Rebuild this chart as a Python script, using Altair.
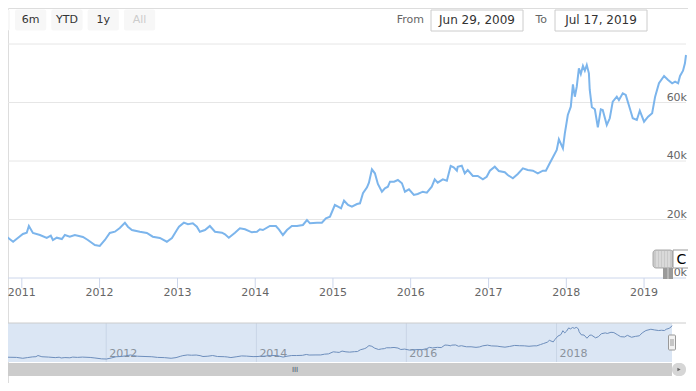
import altair as alt
import pandas as pd

FONT = "DejaVu Sans"

# ---- series ----
dates = [
    "2010-08-15", "2010-09-20", "2010-10-21", "2010-11-21", "2010-12-13",
    "2011-01-06", "2011-01-24", "2011-02-03", "2011-02-22", "2011-03-27",
    "2011-04-28", "2011-05-17", "2011-05-27", "2011-06-14", "2011-07-08",
    "2011-07-22", "2011-08-14", "2011-09-07", "2011-10-15", "2011-11-07",
    "2011-12-10", "2012-01-02", "2012-01-26", "2012-02-18", "2012-03-13",
    "2012-04-05", "2012-04-29", "2012-05-13", "2012-06-01", "2012-07-08",
    "2012-08-10", "2012-09-07", "2012-10-10", "2012-11-12", "2012-12-06",
    "2012-12-29", "2013-01-08", "2013-01-31", "2013-02-19", "2013-03-14",
    "2013-04-02", "2013-04-16", "2013-05-10", "2013-06-02", "2013-06-26",
    "2013-07-29", "2013-08-12", "2013-08-30", "2013-09-28", "2013-10-21",
    "2013-11-14", "2013-12-16", "2014-01-09", "2014-01-23", "2014-02-06",
    "2014-03-11", "2014-04-08", "2014-04-22", "2014-05-11", "2014-05-30",
    "2014-06-22", "2014-07-16", "2014-08-13", "2014-09-01", "2014-09-15",
    "2014-10-18", "2014-11-10", "2014-11-29", "2014-12-18", "2015-01-10",
    "2015-01-25", "2015-02-08", "2015-02-22", "2015-03-13", "2015-03-31",
    "2015-04-24", "2015-05-08", "2015-05-22", "2015-06-10", "2015-06-19",
    "2015-07-03", "2015-07-17", "2015-07-31", "2015-08-19", "2015-09-02",
    "2015-09-16", "2015-09-26", "2015-10-15", "2015-11-02", "2015-11-21",
    "2015-12-05", "2015-12-24", "2016-01-16", "2016-02-03", "2016-02-27",
    "2016-03-17", "2016-04-09", "2016-04-23", "2016-05-07", "2016-05-31",
    "2016-06-19", "2016-07-07", "2016-07-21", "2016-08-05", "2016-08-09",
    "2016-08-28", "2016-09-11", "2016-09-25", "2016-10-19", "2016-11-11",
    "2016-12-05", "2016-12-23", "2017-01-07", "2017-01-30", "2017-02-18",
    "2017-03-18", "2017-04-01", "2017-04-25", "2017-05-18", "2017-06-11",
    "2017-07-04", "2017-07-28", "2017-08-20", "2017-09-13", "2017-09-27",
    "2017-10-15", "2017-10-30", "2017-11-17", "2017-11-27", "2017-12-16",
    "2017-12-25", "2018-01-08", "2018-01-22", "2018-02-01", "2018-02-10",
    "2018-02-19", "2018-03-01", "2018-03-10", "2018-03-20", "2018-03-29",
    "2018-04-07", "2018-04-17", "2018-04-21", "2018-05-01", "2018-05-15",
    "2018-05-29", "2018-06-12", "2018-06-21", "2018-07-10", "2018-07-24",
    "2018-08-07", "2018-08-26", "2018-09-05", "2018-09-23", "2018-10-07",
    "2018-10-26", "2018-11-09", "2018-11-28", "2018-12-12", "2019-01-01",
    "2019-01-20", "2019-02-08", "2019-02-22", "2019-03-12", "2019-04-05",
    "2019-04-24", "2019-05-13", "2019-05-27", "2019-06-10", "2019-06-19",
    "2019-07-03", "2019-07-12", "2019-07-17",
]
values = [
    14800, 14360, 14120, 12410, 13680,
    15040, 15490, 17780, 15390, 14700,
    13680, 14460, 12990, 13780, 13330,
    14700, 14120, 14700, 14020, 12990,
    11280, 10940, 12990, 15390, 15830,
    17100, 18910, 17540, 16410, 15830,
    15390, 14120, 13680, 12410, 13680,
    16410, 17540, 18910, 18360, 18700,
    17540, 15830, 16410, 17780, 15830,
    15490, 14940, 13780, 15490, 16990,
    16650, 15620, 15830, 16650, 16410,
    17780, 17780, 16650, 14700, 16410,
    17780, 17780, 18120, 19830, 18700,
    18910, 18910, 20410, 20960, 24960,
    24380, 23830, 26430, 24960, 24380,
    25300, 25540, 28960, 31010, 32580,
    37160, 35800, 32140, 29510, 30670,
    31210, 32920, 32920, 33510, 32380,
    29510, 30330, 28380, 28720, 29510,
    29160, 31210, 33740, 32580, 33740,
    33270, 38290, 37850, 36690, 38050,
    38400, 35800, 36930, 34870, 34870,
    33740, 34630, 36690, 38050, 36580,
    36140, 35210, 34090, 35560, 37500,
    36930, 36690, 35800, 36690, 36690,
    39220, 41270, 43760, 47420, 44340,
    49470, 55730, 58570, 66220, 61980,
    65400, 71690, 69750, 72480, 70870,
    72820, 69990, 64280, 58360, 57680,
    51520, 57680, 57440, 52310, 54600,
    60280, 61990, 60860, 63150, 62570,
    58020, 54600, 54020, 57200, 53440,
    55150, 56310, 61990, 66570, 69060,
    67690, 66570, 67110, 66570, 69060,
    70870, 73400, 76240,
]

# ---- axis / UI texts ----
main_years = ["2011", "2012", "2013", "2014", "2015", "2016", "2017", "2018", "2019"]
nav_years = ["2012", "2014", "2016", "2018"]
y_ticks = [0, 20000, 40000, 60000, 80000]
y_tick_labels = ["0k", "20k", "40k", "60k", ""]
buttons = ["3m", "6m", "YTD", "1y", "All"]
range_labels = ["From", "To"]
range_values = ["Jun 29, 2009", "Jul 17, 2019"]
nav_range = ["2009-06-29", "2019-07-17"]

df = pd.DataFrame({"date": dates, "value": values})
ytick_df = pd.DataFrame({"tick": y_ticks, "label": y_tick_labels})
xtick_df = pd.DataFrame({"date": [f"{y}-01-01" for y in main_years], "label": main_years})
navtick_df = pd.DataFrame({"date": [f"{y}-01-01" for y in nav_years], "label": nav_years})
btn_df = pd.DataFrame({"label": buttons})
range_df = pd.DataFrame({"label": range_labels, "value": range_values})
navrange_df = pd.DataFrame({"start": [nav_range[0]], "end": [nav_range[1]]})
one = pd.DataFrame({"a": [0]})


def dt(s):
    y, m, d = (int(p) for p in s.split("-"))
    return alt.DateTime(year=y, month=m, date=d, utc=True)


main_x = alt.Scale(type="utc", domain=[dt("2010-10-28"), dt("2019-07-17")], range=[0, 678], nice=False)
main_y = alt.Scale(domain=[0, 80000], range=[270, 36], nice=False, zero=False)
nav_x = alt.Scale(type="utc", domain=[dt(nav_range[0]), dt(nav_range[1])], range=[-90, 664], nice=False)
nav_y = alt.Scale(domain=[10000, 77000], range=[351.5, 317.2], nice=False, zero=False)

layers = []

# ---- range selector buttons (the first one lies mostly off the left edge) ----
btn_x = alt.Scale(type="band", domain=buttons, range=[-29.3, 147.2], paddingInner=0.14, paddingOuter=0)
layers.append(
    alt.Chart(btn_df).mark_bar(color="#f7f7f7", cornerRadius=2).encode(
        x=alt.X("label:N", scale=btn_x, axis=None), y=alt.value(1.5), y2=alt.value(22.5)
    )
)
layers.append(
    alt.Chart(btn_df).transform_filter(alt.datum.label != buttons[0]).mark_text(font=FONT, fontSize=11, baseline="middle").encode(
        x=alt.X("label:N", scale=btn_x, axis=None),
        y=alt.value(11.5),
        text="label:N",
        color=alt.condition(alt.datum.label == "All", alt.value("#cccccc"), alt.value("#333333")),
    )
)

# ---- From / To inputs ----
for i, (lx, bx0, bx1) in enumerate([(416, 423, 515), (539, 547, 639)]):
    sub = alt.Chart(range_df).transform_filter(alt.datum.label == range_labels[i])
    layers.append(
        sub.mark_text(font=FONT, fontSize=11, align="right", baseline="middle", color="#666666").encode(
            x=alt.value(lx), y=alt.value(11.5), text="label:N"
        )
    )
    layers.append(
        sub.mark_rect(fill="white", stroke="#cccccc", strokeWidth=1).encode(
            x=alt.value(bx0), x2=alt.value(bx1), y=alt.value(2), y2=alt.value(23)
        )
    )
    layers.append(
        sub.mark_text(font=FONT, fontSize=12, align="center", baseline="middle", color="#333333").encode(
            x=alt.value((bx0 + bx1) / 2), y=alt.value(12), text="value:N"
        )
    )

# ---- main plot ----
layers.append(
    alt.Chart(ytick_df).transform_filter(alt.datum.tick > 0).mark_rule(color="#e6e6e6", strokeWidth=1).encode(
        y=alt.Y("tick:Q", scale=main_y, axis=None), x=alt.value(0), x2=alt.value(678)
    )
)
layers.append(
    alt.Chart(ytick_df).transform_filter(alt.datum.tick == 0).mark_rule(color="#ccd6eb", strokeWidth=1).encode(
        y=alt.Y("tick:Q", scale=main_y, axis=None), x=alt.value(0), x2=alt.value(678)
    )
)
layers.append(
    alt.Chart(xtick_df).mark_rule(color="#ccd6eb", strokeWidth=1).encode(
        x=alt.X("date:T", scale=main_x, axis=None), y=alt.value(270), y2=alt.value(280)
    )
)
layers.append(
    alt.Chart(xtick_df).mark_text(font=FONT, fontSize=11, baseline="middle", color="#666666").encode(
        x=alt.X("date:T", scale=main_x, axis=None), y=alt.value(285), text="label:N"
    )
)
layers.append(
    alt.Chart(df).mark_line(color="#7cb5ec", strokeWidth=2, clip=True).encode(
        x=alt.X("date:T", scale=main_x, axis=None), y=alt.Y("value:Q", scale=main_y, axis=None)
    )
)
layers.append(
    alt.Chart(ytick_df).mark_text(font=FONT, fontSize=11, align="right", baseline="alphabetic", dy=-2, color="#666666").encode(
        y=alt.Y("tick:Q", scale=main_y, axis=None), x=alt.value(679), text="label:N"
    )
)

# ---- odd overlay widget near the 0k label ----
layers.append(
    alt.Chart(one).mark_rect(fill="#c9c9c9", stroke="#aaaaaa", cornerRadius=3).encode(
        x=alt.value(645), x2=alt.value(665), y=alt.value(242), y2=alt.value(260)
    )
)
for sx in [649, 652, 655, 658, 661]:
    layers.append(
        alt.Chart(one).mark_rule(color="#e9e9e9", strokeWidth=1).encode(
            x=alt.value(sx), y=alt.value(243), y2=alt.value(259)
        )
    )
layers.append(
    alt.Chart(one).mark_rect(fill="#9a9a9a").encode(
        x=alt.value(655), x2=alt.value(665), y=alt.value(260), y2=alt.value(271)
    )
)
layers.append(
    alt.Chart(one).mark_rule(color="#d0d0d0", strokeWidth=1).encode(
        x=alt.value(660), y=alt.value(260), y2=alt.value(271)
    )
)
layers.append(
    alt.Chart(one).mark_rect(fill="white", stroke="#999999").encode(
        x=alt.value(665), x2=alt.value(685), y=alt.value(242), y2=alt.value(260)
    )
)
layers.append(
    alt.Chart(one).mark_text(text="C", font=FONT, fontSize=14, color="#000000", baseline="middle").encode(
        x=alt.value(673.5), y=alt.value(252)
    )
)

# ---- navigator ----
layers.append(
    alt.Chart(navrange_df).mark_rect(fill="#dbe6f4").encode(
        x=alt.X("start:T", scale=nav_x, axis=None), x2="end:T", y=alt.value(315), y2=alt.value(354)
    )
)
layers.append(
    alt.Chart(navtick_df).mark_rule(color="#c9d5e6", strokeWidth=1).encode(
        x=alt.X("date:T", scale=nav_x, axis=None), y=alt.value(315), y2=alt.value(354)
    )
)
layers.append(
    alt.Chart(navtick_df).mark_text(font=FONT, fontSize=11, align="left", dx=3, baseline="middle", color="#8a929c").encode(
        x=alt.X("date:T", scale=nav_x, axis=None), y=alt.value(345.8), text="label:N"
    )
)
layers.append(
    alt.Chart(df).mark_line(color="#6d8ebc", strokeWidth=1, clip=True).encode(
        x=alt.X("date:T", scale=nav_x, axis=None), y=alt.Y("value:Q", scale=nav_y, axis=None)
    )
)
layers.append(
    alt.Chart(one).mark_rule(color="#cccccc", strokeWidth=1).encode(
        x=alt.value(0), x2=alt.value(678), y=alt.value(315)
    )
)
# right handle
layers.append(
    alt.Chart(one).mark_rect(fill="#f2f2f2", stroke="#999999", cornerRadius=1).encode(
        x=alt.value(660.5), x2=alt.value(667.5), y=alt.value(327), y2=alt.value(342)
    )
)
for hx in [663, 665]:
    layers.append(
        alt.Chart(one).mark_rule(color="#999999", strokeWidth=1).encode(
            x=alt.value(hx), y=alt.value(331), y2=alt.value(338)
        )
    )

# ---- scrollbar ----
layers.append(
    alt.Chart(navrange_df).mark_rect(fill="#cccccc").encode(
        x=alt.X("start:T", scale=nav_x, axis=None), x2="end:T", y=alt.value(355), y2=alt.value(368)
    )
)
layers.append(
    alt.Chart(one).mark_rect(fill="#d6d6d6", cornerRadius=6).encode(
        x=alt.value(664), x2=alt.value(678), y=alt.value(355), y2=alt.value(368)
    )
)
layers.append(
    alt.Chart(one).mark_point(shape="triangle-right", filled=True, size=14, color="#333333").encode(
        x=alt.value(671), y=alt.value(361.5)
    )
)
layers.append(
    alt.Chart(one).mark_text(text="III", font=FONT, fontSize=7, color="#3d4f6b", baseline="middle").encode(
        x=alt.value(287), y=alt.value(361.5)
    )
)

chart = (
    alt.layer(*layers)
    .resolve_scale(x="independent", y="independent", color="independent")
    .properties(
        width=680,
        height=375,
        autosize=alt.AutoSizeParams(type="none"),
        padding=0,
        background="white",
    )
    .configure_view(stroke=None)
    .configure(font=FONT)
)

chart.save("out.html", embed_options={"renderer": "svg", "actions": False})
